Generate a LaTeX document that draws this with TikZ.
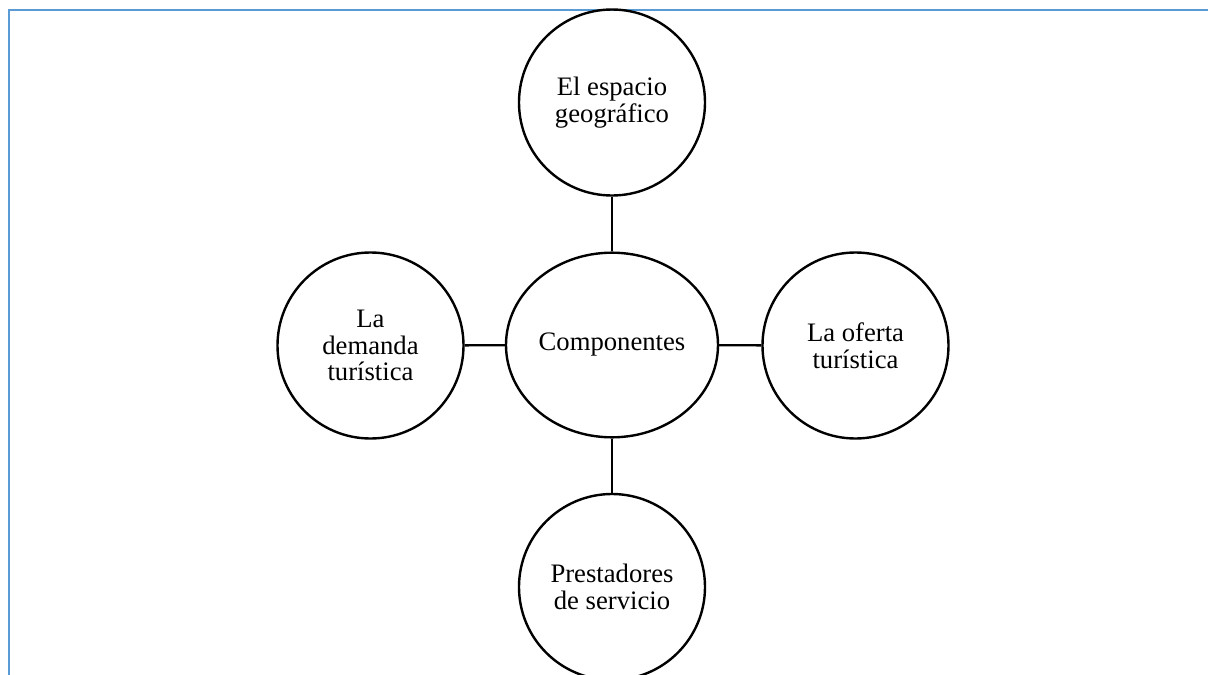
\documentclass[tikz,border=0pt]{standalone}
\usepackage{fontspec}
\setmainfont{Liberation Serif}
\usetikzlibrary{shapes.geometric}
\definecolor{frameblue}{HTML}{5B9BD5}
\begin{document}
\begin{tikzpicture}[x=0.75pt,y=-0.75pt,
  comp/.style={draw=black,line width=1.8pt,circle,minimum size=139.5pt,inner sep=0pt,align=center,
    font=\fontsize{20}{20}\selectfont},
  hub/.style={draw=black,line width=1.8pt,ellipse,minimum width=159pt,minimum height=138.5pt,inner sep=0pt,align=center,
    font=\fontsize{20}{20}\selectfont},
  link/.style={draw=black,line width=1.8pt}]
\path[use as bounding box,clip] (0,0) rectangle (1208,675);
\fill[white] (0,0) rectangle (1208,675);
\draw[frameblue,line width=1.6pt] (9,10) rectangle (1230,700);
\node[hub] (c) at (612,345) {Componentes};
\node[comp] (t) at (612,102.5) {El espacio\\geográfico};
\node[comp] (l) at (370.5,345.5) {La\\demanda\\turística};
\node[comp] (r) at (855.5,345.5) {La oferta\\turística};
\node[comp] (b) at (612,587) {Prestadores\\de servicio};
\draw[link] (t) -- (c);
\draw[link] (l) -- (c);
\draw[link] (r) -- (c);
\draw[link] (b) -- (c);
\end{tikzpicture}
\end{document}
